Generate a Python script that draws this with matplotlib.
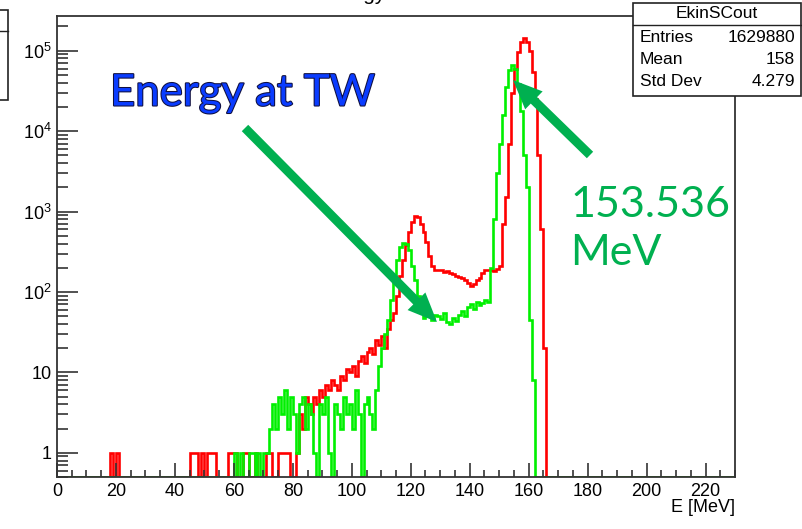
import numpy as np
import matplotlib
matplotlib.use("Agg")
import matplotlib.pyplot as plt
import matplotlib.patheffects as pe
from matplotlib.patches import Rectangle, FancyArrowPatch
from matplotlib.ticker import FixedLocator, NullFormatter, LogLocator

plt.rcParams["font.family"] = ["Liberation Sans", "DejaVu Sans"]
plt.rcParams["mathtext.fontset"] = "custom"
plt.rcParams["mathtext.rm"] = "Liberation Sans"

# 1 MeV bins from 0 to 230 MeV
E_MIN, E_MAX = 0, 230

# EkinSCout (red): isolated single counts at low energy, then the dense part
red_single_bins = [18, 20, 45, 46, 47, 49, 51, 52, 53, 58, 59, 60, 63, 64, 67,
                   71, 72, 75, 76, 77, 78, 81]
red_start = 82
red_counts = [3, 2, 5, 4, 3, 5, 4, 6, 5, 7, 6, 8, 7, 6, 9, 8, 11, 10,      # 82-99
              12, 9, 14, 16, 13, 18, 20, 17, 25, 22,                        # 100-109
              28, 20, 35, 45, 55, 90, 160, 250, 380, 550,                   # 110-119
              750, 880, 850, 700, 550, 420, 280, 210, 190, 190,             # 120-129
              185, 175, 180, 170, 165, 160, 155, 150, 140, 130,             # 130-139
              120, 125, 140, 150, 170, 185, 190, 185, 180, 195,             # 140-149
              210, 700, 1500, 7000, 30000, 60000, 95000, 130000, 145000, 130000,  # 150-159
              100000, 55000, 25000, 5000, 600, 20]                          # 160-165

# Energy at TW (green)
green_single_bins = [60, 62, 65, 66, 68, 70, 71]
green_start = 72
green_counts = [2, 4, 2, 5, 3, 6, 2, 5,                                     # 72-79
                3, 1, 4, 5, 2, 4, 3, 1, 0, 4,                               # 80-89
                3, 5, 1, 0, 4, 3, 2, 5, 3, 4,                               # 90-99
                2, 6, 3, 0, 4, 5, 3, 2, 6, 12,                              # 100-109
                20, 30, 45, 80, 140, 250, 360, 410, 390, 330,               # 110-119
                210, 140, 90, 60, 48, 50, 55, 45, 52, 50,                   # 120-129
                46, 55, 42, 40, 48, 44, 52, 58, 50, 65,                     # 130-139
                70, 62, 75, 68, 72, 80, 75, 200, 800, 3000,                 # 140-149
                7000, 16000, 35000, 58000, 67000, 60000, 38000, 18000, 5000, 2000,  # 150-159
                45, 8]                                                      # 160-161

stat_rows = [("Entries", "1629880"), ("Mean", "158"), ("Std Dev", "4.279")]

Y_MIN, Y_MAX = 0.5, 2.7e5


def fill_hist(single_bins, start, counts):
    h = np.zeros(E_MAX - E_MIN)
    h[single_bins] = 1
    h[start:start + len(counts)] = counts
    return h


edges = np.arange(E_MIN, E_MAX + 1)
red = fill_hist(red_single_bins, red_start, red_counts)
green = fill_hist(green_single_bins, green_start, green_counts)

W, H = 802, 529
fig = plt.figure(figsize=(W / 100, H / 100), dpi=100)


def fx(px):
    return px / W


def fy(py):
    return 1 - py / H


ax = fig.add_axes([fx(57), fy(477), fx(735) - fx(57), fy(16) - fy(477)])

# empty bins sit on the frame floor, as ROOT draws them on a log axis
ax.stairs(np.clip(red, Y_MIN, None), edges, color="#ff0000", lw=1.9,
          baseline=None)
ax.stairs(np.clip(green, Y_MIN, None), edges, color="#00f000", lw=1.9,
          baseline=None)

ax.set_yscale("log")
ax.set_xlim(E_MIN, E_MAX)
ax.set_ylim(Y_MIN, Y_MAX)

ax.xaxis.set_major_locator(FixedLocator(np.arange(0, 221, 20)))
ax.xaxis.set_minor_locator(FixedLocator(np.arange(0, 231, 5)))
ax.yaxis.set_major_locator(FixedLocator([1, 10, 1e2, 1e3, 1e4, 1e5]))
ax.yaxis.set_minor_locator(LogLocator(base=10, subs=np.arange(2, 10)))
ax.yaxis.set_minor_formatter(NullFormatter())
ax.set_yticklabels(["1", "10", r"$10^{2}$", r"$10^{3}$", r"$10^{4}$", r"$10^{5}$"])

ax.tick_params(axis="both", which="both", direction="in", color="#333333",
               labelsize=13, top=False, right=False)
ax.tick_params(axis="x", which="major", length=10, width=1.2, pad=4)
ax.tick_params(axis="x", which="minor", length=5, width=1.2)
ax.tick_params(axis="y", which="major", length=15, width=1.2, pad=4)
ax.tick_params(axis="y", which="minor", length=8, width=1.2)
for s in ax.spines.values():
    s.set_linewidth(1.3)
    s.set_color("#333333")

fig.text(fx(735), fy(508), "E [MeV]", ha="right", va="center", fontsize=13)

# histogram title, mostly off the top edge
fig.text(fx(352), fy(4), "Energy", ha="center", va="bottom", fontsize=15)

# stats box
bx0, bx1, by0, by1 = 633, 801, 3, 96
fig.patches.append(Rectangle((fx(bx0), fy(by1)), fx(bx1) - fx(bx0),
                             fy(by0) - fy(by1), transform=fig.transFigure,
                             facecolor="white", edgecolor="#222222", lw=1.2,
                             zorder=5))
fig.lines.append(plt.Line2D([fx(bx0), fx(bx1)], [fy(25), fy(25)],
                            transform=fig.transFigure, color="#222222",
                            lw=1.0, zorder=6))
fig.text(fx((bx0 + bx1) / 2), fy(14), "EkinSCout", ha="center", va="center",
         fontsize=12.5, zorder=7)
for i, (name, val) in enumerate(stat_rows):
    yy = fy(38 + 22 * i)
    fig.text(fx(bx0 + 7), yy, name, ha="left", va="center", fontsize=12.5,
             zorder=7)
    fig.text(fx(bx1 - 6), yy, val, ha="right", va="center", fontsize=12.5,
             zorder=7)

# second stats box, cut by the left edge
fig.patches.append(Rectangle((fx(-60), fy(100)), fx(68), fy(10) - fy(100),
                             transform=fig.transFigure, facecolor="white",
                             edgecolor="#222222", lw=1.2, zorder=5))
fig.lines.append(plt.Line2D([0, fx(8)], [fy(31), fy(31)],
                            transform=fig.transFigure, color="#222222",
                            lw=1.0, zorder=6))

# annotations
arrow_green = "#00b050"
fig.text(fx(110), fy(93), "Energy at TW", ha="left", va="center",
         fontsize=31.5, family=["Lato", "DejaVu Sans"], color="#0a3cff",
         path_effects=[pe.withStroke(linewidth=1.5, foreground="#101040")])
fig.text(fx(570), fy(229), "153.536\nMeV", ha="left", va="center",
         fontsize=31, family=["Lato", "DejaVu Sans"], color=arrow_green,
         linespacing=1.3)

for (x0, y0), (x1, y1) in [((245, 128), (437, 322)), ((590, 155), (513, 80))]:
    fig.patches.append(FancyArrowPatch(
        (fx(x0), fy(y0)), (fx(x1), fy(y1)), transform=fig.transFigure,
        arrowstyle="simple,head_width=18,head_length=21,tail_width=6.5",
        mutation_scale=1, shrinkA=0, shrinkB=0, color=arrow_green, lw=0,
        zorder=8))

fig.savefig("out.png", dpi=100)
